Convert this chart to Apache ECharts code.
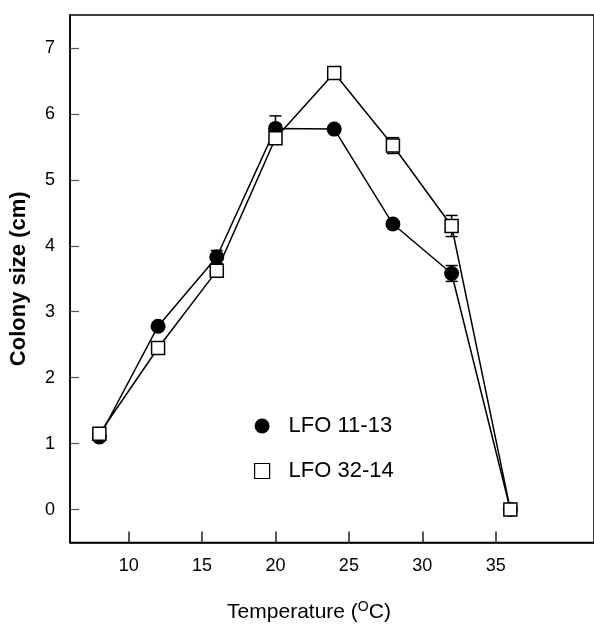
<!DOCTYPE html>
<html>
<head>
<meta charset="utf-8">
<script src="https://cdn.jsdelivr.net/npm/echarts@6/dist/echarts.min.js"></script>
<style>
  html, body { margin: 0; padding: 0; background: #fff; }
  #chart { width: 594px; height: 628px; }
</style>
</head>
<body>
<div id="chart"></div>
<script>
const temps = [8, 12, 16, 20, 24, 28, 32, 36]
const lfo1113 = [1.1, 2.78, 3.83, 5.78, 5.77, 4.33, 3.58, 0]
const lfo1113Err = [0, 0, 0.1, 0.19, 0.05, 0.05, 0.12, 0]
const lfo3214 = [1.15, 2.45, 3.62, 5.63, 6.62, 5.52, 4.3, 0]
const lfo3214Err = [0.03, 0.05, 0.05, 0.05, 0.05, 0.12, 0.16, 0]
const xTicks = [10, 15, 20, 25, 30, 35]
const yTicks = [0, 1, 2, 3, 4, 5, 6, 7]

const font = 'Liberation Sans, Arial, sans-serif'

const pts = (vals) => temps.map((t, i) => [t, vals[i]])
const errs = (vals, e) => temps.map((t, i) => [t, vals[i] - e[i], vals[i] + e[i]])

// vertical error bar with caps, drawn under the symbols
const errorBars = (name, data) => ({
  type: 'custom',
  name,
  z: 1,
  silent: true,
  data,
  renderItem: (params, api) => {
    const lo = api.coord([api.value(0), api.value(1)])
    const hi = api.coord([api.value(0), api.value(2)])
    const w = 6
    const style = { stroke: '#000', lineWidth: 1.5 }
    return {
      type: 'group',
      children: [
        { type: 'line', shape: { x1: lo[0], y1: lo[1], x2: hi[0], y2: hi[1] }, style },
        { type: 'line', shape: { x1: lo[0] - w, y1: lo[1], x2: lo[0] + w, y2: lo[1] }, style },
        { type: 'line', shape: { x1: hi[0] - w, y1: hi[1], x2: hi[0] + w, y2: hi[1] }, style }
      ]
    }
  }
})

const chart = echarts.init(document.getElementById('chart'))
chart.setOption({
  animation: false,
  backgroundColor: '#fff',
  textStyle: { fontFamily: font },
  grid: {
    left: 68, right: -4, top: 15, bottom: 84,
    show: true, borderColor: '#000', borderWidth: 1.5, backgroundColor: 'transparent'
  },
  legend: {
    orient: 'vertical',
    left: 249, top: 410,
    itemWidth: 15, itemHeight: 15, itemGap: 23,
    textStyle: { fontFamily: font, fontSize: 22, color: '#000', padding: [4, 0, 0, 14] },
    data: [
      { name: 'LFO 11-13', icon: 'circle', itemStyle: { color: '#000' } },
      { name: 'LFO 32-14', icon: 'rect', itemStyle: { color: '#fff', borderColor: '#000', borderWidth: 1.2 } }
    ]
  },
  xAxis: {
    type: 'value',
    min: 6, max: 41.7,
    name: 'Temperature ({sup|O}C)',
    nameLocation: 'middle',
    nameGap: 58,
    nameTextStyle: {
      fontFamily: font, fontSize: 21, color: '#000', padding: [0, 46, 0, 0],
      rich: { sup: { fontFamily: font, fontSize: 14, color: '#000', verticalAlign: 'top', padding: [0, 0, 10, 0] } }
    },
    splitLine: { show: false },
    axisLine: { onZero: false, lineStyle: { color: '#000', width: 1.5 } },
    axisTick: { inside: true, length: 11, customValues: xTicks, lineStyle: { color: '#222', width: 1.5 } },
    axisLabel: { customValues: xTicks, margin: 15, fontSize: 18, color: '#000', fontFamily: font }
  },
  yAxis: {
    type: 'value',
    min: -0.5, max: 7.5,
    name: 'Colony size (cm)',
    nameLocation: 'middle',
    nameGap: 40,
    nameTextStyle: { fontFamily: font, fontSize: 22, fontWeight: 'bold', color: '#000' },
    splitLine: { show: false },
    axisLine: { lineStyle: { color: '#000', width: 1.5 } },
    axisTick: { inside: true, length: 9, customValues: yTicks, lineStyle: { color: '#555', width: 1.2 } },
    axisLabel: { customValues: yTicks, margin: 15, fontSize: 18, color: '#000', fontFamily: font }
  },
  series: [
    errorBars('err1113', errs(lfo1113, lfo1113Err)),
    errorBars('err3214', errs(lfo3214, lfo3214Err)),
    {
      name: 'LFO 11-13',
      type: 'line',
      data: pts(lfo1113),
      symbol: 'circle',
      symbolSize: 15,
      z: 3,
      lineStyle: { color: '#000', width: 1.5 },
      itemStyle: { color: '#000' }
    },
    {
      name: 'LFO 32-14',
      type: 'line',
      data: pts(lfo3214),
      symbol: 'rect',
      symbolSize: 13,
      z: 4,
      lineStyle: { color: '#000', width: 1.5 },
      itemStyle: { color: '#fff', borderColor: '#000', borderWidth: 1.5 }
    }
  ]
})
</script>
</body>
</html>
